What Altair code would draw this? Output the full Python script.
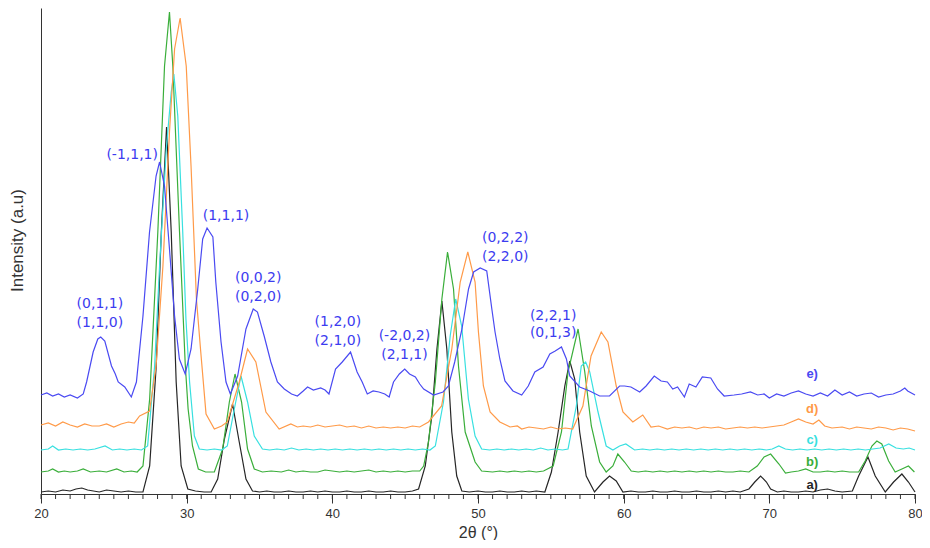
import altair as alt
import pandas as pd

# ---- data (2theta in degrees, intensity in arbitrary units incl. offset) ----
a_pts = [(20,2),(20.5,3),(21,2),(21.5,4),(22,3),(22.4,5),(22.8,6),(23.2,4),(23.6,3),(24,2),(24.5,4),(25,3),
         (25.5,2),(26,3),(26.5,2),(27.0,2),(27.46,28),(27.91,128),(28.26,262),(28.62,367),(28.94,262),(29.28,112),
         (29.62,28),(30.08,5),(30.6,3),(31.2,2),(31.68,2),(32.13,15),(32.59,55),(33.15,90),(33.61,52),(34.07,15),
         (34.52,3),(35,2),(35.5,3),(36,2),(36.5,2),(37,3),(37.5,2),(38,2),(38.5,3),(39,2),(39.5,3),(40,2),(40.5,2),
         (41,3),(41.5,2),(42,2),(42.5,3),(43,2),(43.5,2),(44,3),(44.5,2),(45,2),(45.5,3),(45.92,5),(46.38,28),
         (46.83,78),(47.18,145),(47.52,193),(47.86,145),(48.2,62),(48.54,18),(48.89,3),(49.4,2),(50,3),(50.5,2),
         (51,2),(51.5,3),(52,2),(52.5,2),(53,3),(53.5,2),(54,3),(54.59,2),(55.04,22),(55.5,62),(55.96,108),
         (56.3,133),(56.64,115),(56.98,62),(57.43,18),(58.0,2),(58.58,12),(59.03,18),(59.49,13),(59.95,2),(60.5,3),
         (61,2),(61.5,2),(62,3),(62.5,2),(63,2),(63.5,3),(64,2),(64.5,2),(65,3),(65.5,2),(66,2),(66.5,3),(67,2),
         (67.5,3),(68,2),(68.6,5),(69.0,12),(69.4,18),(69.8,12),(70.09,5),(70.55,2),(71,3),(71.5,2),(72,2),(72.5,3),
         (73,2),(73.5,4),(74,5),(74.5,3),(75,2),(75.7,3),(76.13,18),(76.77,37),(77.27,18),(77.96,2),(78.53,12),
         (79.1,20),(79.55,12),(80,2)]

b_pts = [(20,22),(20.5,23),(20.8,25),(21.2,22),(21.6,23),(22,22),(22.5,23),(22.9,25),(23.4,22),(24,23),(24.5,22),
         (25.2,25),(25.7,22),(26.2,23),(26.6,22),(27.0,28),(27.46,95),(28.02,262),(28.48,428),(28.82,482),(29.05,428),
         (29.51,262),(29.9,130),(30.1,85),(30.4,48),(30.8,25),(31.3,22),(31.9,22),(32.47,45),(32.93,92),(33.32,120),
         (33.77,92),(34.18,45),(34.64,25),(35.2,22),(35.8,23),(36.5,22),(37,24),(37.5,22),(38,23),(38.5,22),(39,22),
         (39.5,24),(40,23),(40.5,22),(41,23),(41.5,22),(42,23),(42.5,24),(43,22),(43.5,23),(44,22),(44.5,23),(45,22),
         (45.5,23),(46.0,23),(46.27,28),(46.6,52),(47.07,112),(47.52,195),(47.91,242),(48.32,205),(48.66,128),
         (49.12,62),(49.8,32),(50.25,23),(51,22),(51.5,23),(52,22),(52.5,23),(53,22),(53.5,23),(54,22),(54.5,23),
         (55.16,28),(55.73,62),(56.18,122),(56.87,165),(57.33,122),(57.78,68),(58.35,32),(58.8,22),(59.26,28),
         (59.6,40),(60.06,32),(60.52,23),(61,22),(61.5,23),(62,22),(62.5,23),(63,22),(63.5,23),(64,22),(64.5,23),
         (65,22),(65.5,23),(66,22),(66.5,23),(67,22),(67.5,22),(68,23),(68.6,22),(69.17,28),(69.64,37),(70.09,40),
         (70.66,30),(71.11,21),(71.5,22),(72,23),(72.5,25),(73,22),(73.5,22),(74,23),(74.5,22),(75,23),(75.5,22),
         (76.13,22),(76.58,33),(77.04,48),(77.38,53),(77.72,50),(78.19,33),(78.64,22),(79.1,25),(79.55,28),(79.96,22)]

c_pts = [(20,44),(20.5,45),(20.8,48),(21.2,44),(21.7,45),(22.2,44),(22.7,45),(23.2,44),(23.7,45),(24.4,48),(24.9,44),
         (25.4,45),(25.9,44),(26.4,45),(26.9,44),(27.32,48),(27.8,128),(28.14,228),(28.6,345),(28.94,402),(29.12,420),
         (29.39,378),(29.73,262),(29.95,175),(30.2,112),(30.53,58),(30.87,45),(31.4,44),(31.9,45),(32.4,44),
         (32.79,48),(33.27,85),(33.73,118),(34.18,92),(34.64,58),(35.2,45),(35.7,44),(36.2,45),(36.7,44),(37.2,46),
         (37.7,44),(38.2,45),(38.7,44),(39.2,45),(39.7,44),(40.2,45),(40.7,44),(41.2,45),(41.7,44),(42.2,45),
         (42.7,44),(43.2,45),(43.7,44),(44.2,45),(44.7,44),(45.2,45),(45.7,44),(46.2,45),(46.7,44),(47.07,48),
         (47.63,92),(48.09,158),(48.47,195),(48.88,168),(49.34,95),(49.8,58),(50.25,45),(50.8,44),(51.3,45),
         (51.8,44),(52.3,45),(52.8,44),(53.3,45),(53.8,44),(54.3,46),(54.8,44),(55.3,45),(55.8,44),(56.18,45),
         (56.75,88),(57.09,128),(57.39,132),(57.67,122),(58.24,82),(58.8,48),(59.26,44),(59.72,48),(60.15,50),
         (60.75,44),(61.3,45),(61.8,44),(62.3,45),(62.8,44),(63.3,45),(63.8,44),(64.3,45),(64.8,44),(65.3,45),
         (65.8,44),(66.3,45),(66.8,44),(67.3,45),(67.8,44),(68.3,45),(68.8,44),(69.3,45),(69.8,44),(70.2,45),
         (70.65,48),(71.1,45),(71.6,44),(72.1,45),(72.6,44),(73.1,45),(73.6,44),(74.1,45),(74.6,44),(75.1,45),
         (75.6,44),(76.1,45),(76.6,44),(77.1,45),(77.6,46),(78.2,50),(78.7,46),(79.2,45),(79.6,46),(80,44)]

d_pts = [(20,69),(20.5,71),(21,68),(21.5,72),(22,69),(22.5,67),(23,70),(23.5,68),(24,68),(24.5,70),(25,67),(25.5,70),
         (26,72),(26.4,71),(26.77,78),(27.45,83),(27.9,128),(28.37,228),(28.82,362),(29.17,445),(29.55,476),
         (29.97,428),(30.3,328),(30.67,195),(30.95,145),(31.33,80),(31.9,65),(32.4,68),(32.79,72),(33.61,112),
         (34.18,145),(34.75,132),(35.44,82),(36.35,65),(37.15,70),(37.6,67),(38,68),(38.5,67),(39,69),(39.5,67),
         (40,68),(40.5,69),(41,67),(41.5,68),(42,66),(42.5,68),(43,66),(43.5,67),(44,66),(44.5,67),(45,66),(45.5,68),
         (46,67),(46.6,72),(47.5,88),(48.2,145),(48.78,212),(49.3,242),(49.8,212),(50.03,162),(50.37,108),(50.83,82),
         (51.5,72),(52.2,67),(52.7,68),(53,65),(53.5,67),(54,66),(54.5,65),(55,67),(55.5,65),(56,66),(56.5,65),
         (57.2,88),(57.76,138),(58.46,162),(58.92,152),(59.49,108),(59.95,82),(60.63,72),(61.31,79),(61.88,67),
         (62.4,68),(63,65),(63.5,67),(64,66),(64.5,67),(65,65),(65.5,67),(66,66),(66.5,67),(67,65),(67.5,66),(68,67),
         (68.5,66),(69,67),(69.5,66),(70,67),(70.5,68),(71,69),(71.5,72),(72,75),(72.5,72),(73,70),(73.4,74),
         (73.8,68),(74.3,66),(75,67),(75.5,65),(76,67),(76.5,66),(77,65),(77.5,67),(78,66),(78.5,64),(79,66),
         (79.5,65),(80,63)]

e_pts = [(20,99),(20.4,101),(20.8,98),(21.2,100),(21.6,97),(22.0,99),(22.5,96),(22.9,100),(23.13,112),(23.58,142),
         (23.9,155),(24.1,157),(24.38,153),(24.84,128),(25.1,120),(25.3,112),(25.75,107),(26.2,97),(26.55,112),
         (27.0,178),(27.45,262),(27.9,318),(28.14,332),(28.48,308),(28.82,245),(29.17,178),(29.5,135),(29.9,120),
         (30.3,145),(30.76,205),(31.1,255),(31.4,266),(31.8,257),(32.0,212),(32.36,152),(32.7,112),(33.0,100),
         (33.5,118),(34.07,165),(34.57,185),(34.86,182),(35.32,158),(35.78,132),(36.23,112),(36.7,105),(37.2,100),
         (37.6,98),(38.0,103),(38.3,107),(38.7,104),(39.2,106),(39.5,104),(39.77,100),(40.22,125),(40.68,132),
         (41.25,142),(41.7,122),(42.05,112),(42.4,100),(42.8,103),(43.2,102),(43.6,100),(43.9,97),(44.2,112),
         (44.6,120),(44.97,125),(45.3,120),(45.7,117),(46.0,110),(46.27,105),(46.95,99),(47.6,102),(47.97,108),
         (48.4,132),(48.9,165),(49.35,205),(49.7,222),(50.15,226),(50.6,223),(50.95,185),(51.17,162),(51.5,135),
         (51.85,113),(52.4,103),(53.0,99),(53.45,108),(53.9,122),(54.47,127),(54.93,140),(55.3,143),(55.73,147),
         (56.07,135),(56.3,118),(56.98,107),(57.67,103),(58.35,98),(59.03,98),(59.72,108),(60.06,108),(60.5,107),
         (61.1,102),(61.54,108),(62.1,118),(62.57,113),(63.0,112),(63.37,105),(63.7,107),(64.17,97),(64.5,110),
         (64.96,107),(65.4,117),(65.98,116),(66.44,105),(66.9,98),(67.58,99),(68.1,100),(68.7,102),(69.2,99),
         (69.64,100),(70,96),(70.5,100),(71,98),(71.5,101),(72,103),(72.5,100),(73,98),(73.5,101),(74,98),(74.5,104),
         (75,99),(75.5,102),(76,98),(76.5,100),(77,101),(77.5,97),(78,99),(78.5,100),(79,103),(79.3,106),(79.5,103),
         (80,99)]

series_names = ["a)", "b)", "c)", "d)", "e)"]
series_points = [a_pts, b_pts, c_pts, d_pts, e_pts]
series_colors = ["#262626", "#3aae3a", "#38e0e0", "#ff9a48", "#4a4af2"]
label_x = [72.94, 72.94, 72.94, 72.94, 72.94]
label_y = [9, 32, 54, 85, 120]

ann_text = ["(0,1,1)", "(1,1,0)", "(-1,1,1)", "(1,1,1)", "(0,0,2)", "(0,2,0)", "(1,2,0)", "(2,1,0)",
            "(-2,0,2)", "(2,1,1)", "(0,2,2)", "(2,2,0)", "(2,2,1)", "(0,1,3)"]
ann_x = [24.04, 24.04, 26.26, 32.7, 34.91, 34.91, 40.38, 40.38, 44.95, 44.95, 51.87, 51.87, 55.16, 55.16]
ann_y = [190, 171, 339, 278, 216, 197, 172, 153, 158, 139, 256, 237, 178, 161]

major_ticks = [20, 30, 40, 50, 60, 70, 80]
minor_ticks = list(range(20, 81))

X_DOMAIN = [20, 80]
Y_DOMAIN = [0, 486]
W, H = 874, 486

x_scale = alt.Scale(domain=X_DOMAIN, nice=False, zero=False)
y_scale = alt.Scale(domain=Y_DOMAIN, nice=False, zero=False)

x_axis = alt.Axis(values=major_ticks, format="d", title="2θ (°)", grid=False, labelFlush=False,
                  labelFont="Liberation Sans", labelFontSize=13, labelColor="#333333", labelPadding=4,
                  tickSize=9, tickColor="#333333", domainColor="#333333", tickWidth=1, domainWidth=1,
                  titleFont="Liberation Sans", titleFontSize=16, titleFontWeight="normal", titleColor="#333333",
                  titleBaseline="alphabetic", titleY=43)
y_axis = alt.Axis(title="Intensity (a.u)", labels=False, ticks=False, grid=False,
                  domainColor="#333333", domainWidth=1,
                  titleFont="Liberation Sans", titleFontSize=17, titleFontWeight="normal", titleColor="#333333",
                  titlePadding=15, titleY=232)

X = lambda f: alt.X(f, scale=x_scale, axis=x_axis, title="2θ (°)")
Y = lambda f: alt.Y(f, scale=y_scale, axis=y_axis, title="Intensity (a.u)")

layers = []
for name, pts, col in zip(series_names, series_points, series_colors):
    df = pd.DataFrame(pts, columns=["theta", "intensity"])
    df["order"] = range(len(df))
    layers.append(
        alt.Chart(df).mark_line(color=col, strokeWidth=1.2, interpolate="linear")
        .encode(x=X("theta:Q"), y=Y("intensity:Q"), order="order:Q")
    )

minor_df = pd.DataFrame({"theta": minor_ticks})
layers.append(
    alt.Chart(minor_df).mark_rule(color="#333333", strokeWidth=1)
    .encode(x=X("theta:Q"), y=alt.value(H), y2=alt.value(H + 5))
)

lab_df = pd.DataFrame({"theta": label_x, "intensity": label_y, "text": series_names, "col": series_colors})
layers.append(
    alt.Chart(lab_df).mark_text(font="Liberation Sans", fontSize=13, fontWeight="bold", align="center", baseline="middle")
    .encode(x=X("theta:Q"), y=Y("intensity:Q"), text="text:N", color=alt.Color("col:N", scale=None))
)

ann_df = pd.DataFrame({"theta": ann_x, "intensity": ann_y, "text": ann_text})
layers.append(
    alt.Chart(ann_df).mark_text(font="DejaVu Sans", fontSize=14, color="#3c3cf0", align="center", baseline="middle")
    .encode(x=X("theta:Q"), y=Y("intensity:Q"), text="text:N")
)

chart = alt.layer(*layers).properties(
    width=W, height=H,
    autosize=alt.AutoSizeParams(type="none"),
    padding={"left": 33, "top": 0, "right": 7, "bottom": 46},
    background="white",
).configure_view(stroke=None)

chart.save("out.html", embed_options={"renderer": "svg", "actions": False})
